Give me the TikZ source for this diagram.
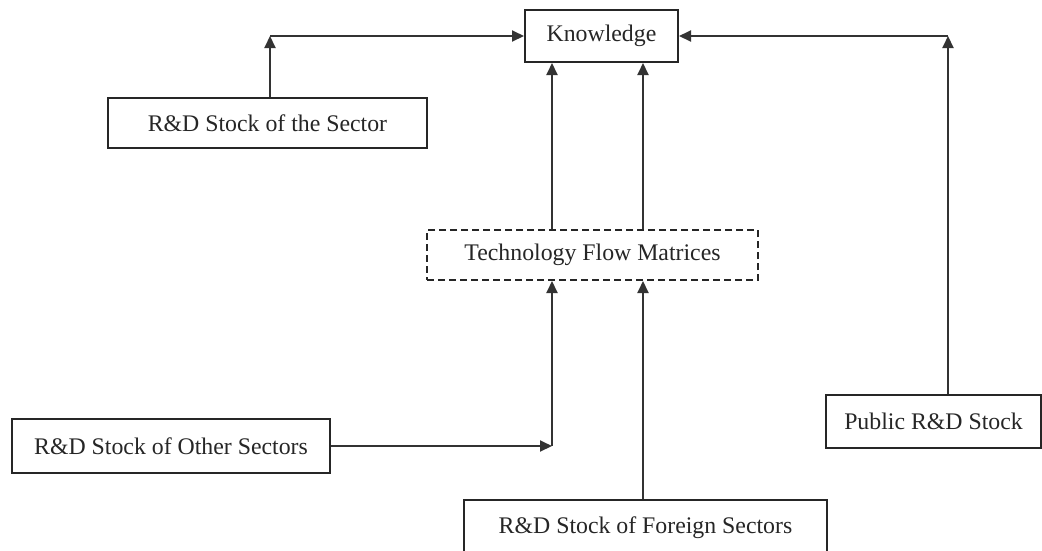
\documentclass[tikz,border=0pt]{standalone}
\usepackage{fontspec}
\setmainfont{Liberation Serif}
\usetikzlibrary{arrows.meta}
\begin{document}
\begin{tikzpicture}[x=1pt,y=-1pt,
  box/.style={draw=black!85,line width=2pt,rectangle,inner sep=0pt,align=center,
    font=\fontsize{23.8}{28}\selectfont,text=black!85},
  dbox/.style={box,dashed,dash pattern=on 7pt off 4pt},
  arr/.style={draw=black!80,line width=2pt,-{Triangle[length=12pt,width=11pt]}}]
\clip (0,0) rectangle (1042,550);
\fill[white] (0,0) rectangle (1042,550);
% nodes
\node[box,minimum width=153pt,minimum height=52pt] (know) at (601.5,36) {Knowledge};
\node[box,minimum width=319pt,minimum height=50pt] (sector) at (267.5,123) {R\&D Stock of the Sector};
\node[dbox,minimum width=331pt,minimum height=50pt] (tfm) at (592.5,255) {Technology Flow Matrices};
\node[box,minimum width=318pt,minimum height=54pt] (other) at (171,446) {R\&D Stock of Other Sectors};
\node[box,minimum width=363pt,minimum height=56pt] (foreign) at (645.5,528) {R\&D Stock of Foreign Sectors};
\node[box,minimum width=215pt,minimum height=53pt] (public) at (933.5,421.5) {Public R\&D Stock};
% corner coordinates
\coordinate (c1) at (270,36);
\coordinate (c2) at (948,36);
\coordinate (c3) at (552,446);
\coordinate (c4) at (643,446);
% connectors
\draw[arr] (c1 |- sector.north) -- (c1);
\draw[arr] (c1) -- (know.west);
\draw[arr] (c2 |- public.north) -- (c2);
\draw[arr] (c2) -- (know.east);
\draw[arr] (c3 |- tfm.north) -- (c3 |- know.south);
\draw[arr] (c4 |- tfm.north) -- (c4 |- know.south);
\draw[arr] (other.east) -- (c3);
\draw[arr] (c3) -- (c3 |- tfm.south);
\draw[arr] (c4 |- foreign.north) -- (c4 |- tfm.south);
\end{tikzpicture}
\end{document}
